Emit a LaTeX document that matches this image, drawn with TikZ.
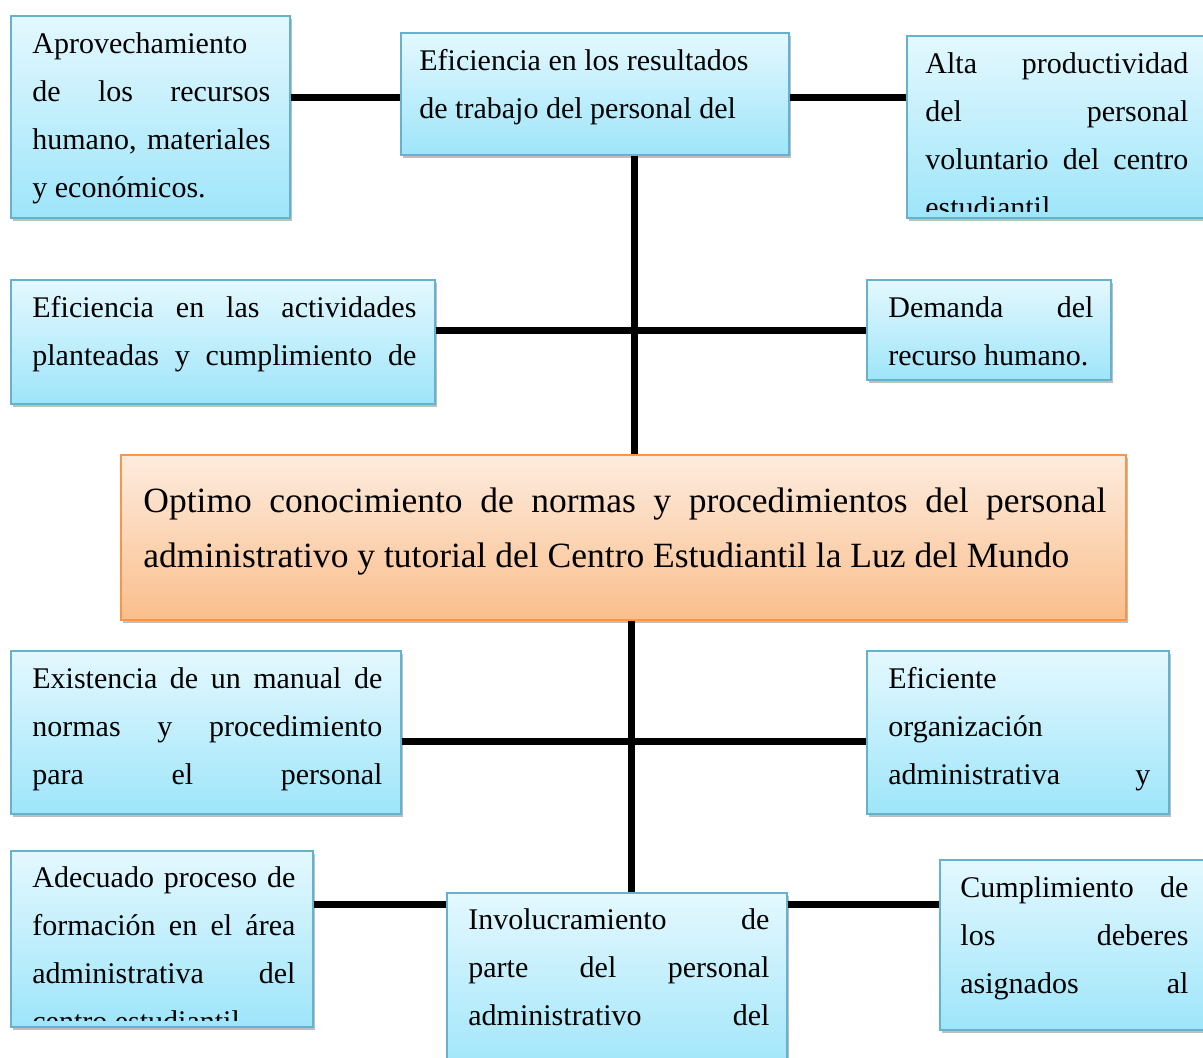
\documentclass[tikz,border=0pt]{standalone}
\usepackage{fontspec}
\setmainfont{Liberation Serif}
\usetikzlibrary{positioning,fit,shadows,calc}

\definecolor{bluetop}{RGB}{228,248,254}
\definecolor{bluebot}{RGB}{158,229,250}
\definecolor{blueline}{RGB}{100,178,205}
\definecolor{orangetop}{RGB}{253,236,222}
\definecolor{orangebot}{RGB}{250,190,140}
\definecolor{orangeline}{RGB}{247,150,70}

% one justified line / one plain line
\newcommand{\jl}[1]{\makebox[\linewidth][s]{#1}\par}
\newcommand{\nl}[1]{\makebox[\linewidth][l]{#1}\par}

\tikzset{
  bluebox/.style={fit={#1}, inner sep=0pt, draw=blueline, line width=0.6pt,
    top color=bluetop, bottom color=bluebot,
    drop shadow={shadow xshift=1pt, shadow yshift=-1.5pt, fill=black!50, opacity=0.5}},
  orangebox/.style={fit={#1}, inner sep=0pt, draw=orangeline, line width=0.6pt,
    top color=orangetop, bottom color=orangebot,
    drop shadow={shadow xshift=1pt, shadow yshift=-1.5pt, fill=black!50, opacity=0.5}},
  txt/.style={anchor=base west, inner sep=0pt, font=\fontsize{15}{24}\selectfont},
  bigtxt/.style={anchor=base west, inner sep=0pt, font=\fontsize{17.75}{27.5}\selectfont},
  conn/.style={line width=3.5pt, black}
}

\begin{document}
\begin{tikzpicture}[x=0.5pt,y=-0.5pt]
\useasboundingbox (0,0) rectangle (1203,1057);
\clip (0,0) rectangle (1203,1057);

% boxes
\node[bluebox={(11,16) (290,218)}] (aprov) {};
\node[bluebox={(401,33) (789,155)}] (efres) {};
\node[bluebox={(907,36) (1215,218)}] (alta) {};
\node[bluebox={(11,280) (435,404)}] (efact) {};
\node[bluebox={(867,280) (1111,380)}] (demanda) {};
\node[orangebox={(121,455) (1126,620)}] (central) {};
\node[bluebox={(11,651) (401,814)}] (exist) {};
\node[bluebox={(867,651) (1169,814)}] (efic) {};
\node[bluebox={(11,851) (313,1027)}] (adec) {};
\node[bluebox={(447,893) (787,1075)}] (invol) {};
\node[bluebox={(940,860) (1215,1030)}] (cumpl) {};

% texts
\node[txt] (aprovtxt) at (32,53) {\parbox[t]{119pt}{\nl{Aprovechamiento}\jl{de los recursos}\jl{humano, materiales}\nl{y económicos.}}};
\node[txt] (efrestxt) at (419,70) {\parbox[t]{180pt}{\nl{Eficiencia en los resultados}\nl{de trabajo del personal del}}};
\begin{scope}
\clip (alta.north west) rectangle ([yshift=3.5pt]alta.south east);
\node[txt] (altatxt) at (925,73) {\parbox[t]{131.5pt}{\jl{Alta productividad}\jl{del personal}\jl{voluntario del centro}\nl{estudiantil}}};
\end{scope}
\node[txt] (efacttxt) at (32,317) {\parbox[t]{192pt}{\jl{Eficiencia en las actividades}\jl{planteadas y cumplimiento de}}};
\node[txt] (demandatxt) at (888,317) {\parbox[t]{102.5pt}{\jl{Demanda del}\nl{recurso humano.}}};
\node[bigtxt] (centraltxt) at (143,512) {\parbox[t]{481.5pt}{\jl{Optimo conocimiento de normas y procedimientos del personal}\nl{administrativo y tutorial del Centro Estudiantil la Luz del Mundo}}};
\node[txt] (existtxt) at (32,688) {\parbox[t]{175pt}{\jl{Existencia de un manual de}\jl{normas y procedimiento}\jl{para el personal}}};
\node[txt] (efictxt) at (888,688) {\parbox[t]{131pt}{\nl{Eficiente}\nl{organización}\jl{administrativa y}}};
\begin{scope}
\clip (adec.north west) rectangle ([yshift=3.5pt]adec.south east);
\node[txt] (adectxt) at (32,887) {\parbox[t]{131.5pt}{\jl{Adecuado proceso de}\jl{formación en el área}\jl{administrativa del}\nl{centro estudiantil}}};
\end{scope}
\node[txt] (involtxt) at (468,929) {\parbox[t]{150.5pt}{\jl{Involucramiento de}\jl{parte del personal}\jl{administrativo del}}};
\node[txt] (cumpltxt) at (960,897) {\parbox[t]{114pt}{\jl{Cumplimiento de}\jl{los deberes}\jl{asignados al}}};

% connectors
\coordinate (top) at (634,97);
\coordinate (upper) at (634,330);
\coordinate (lower) at (631,741);
\coordinate (bottom) at (631,904);
\draw[conn] (aprov.east |- top) -- (efres.west |- top);
\draw[conn] (efres.east |- top) -- (alta.west |- top);
\draw[conn] (upper |- efres.south) -- (upper |- central.north);
\draw[conn] (efact.east |- upper) -- (demanda.west |- upper);
\draw[conn] (lower |- central.south) -- (lower |- invol.north);
\draw[conn] (exist.east |- lower) -- (efic.west |- lower);
\draw[conn] (adec.east |- bottom) -- (invol.west |- bottom);
\draw[conn] (invol.east |- bottom) -- (cumpl.west |- bottom);
\end{tikzpicture}
\end{document}
